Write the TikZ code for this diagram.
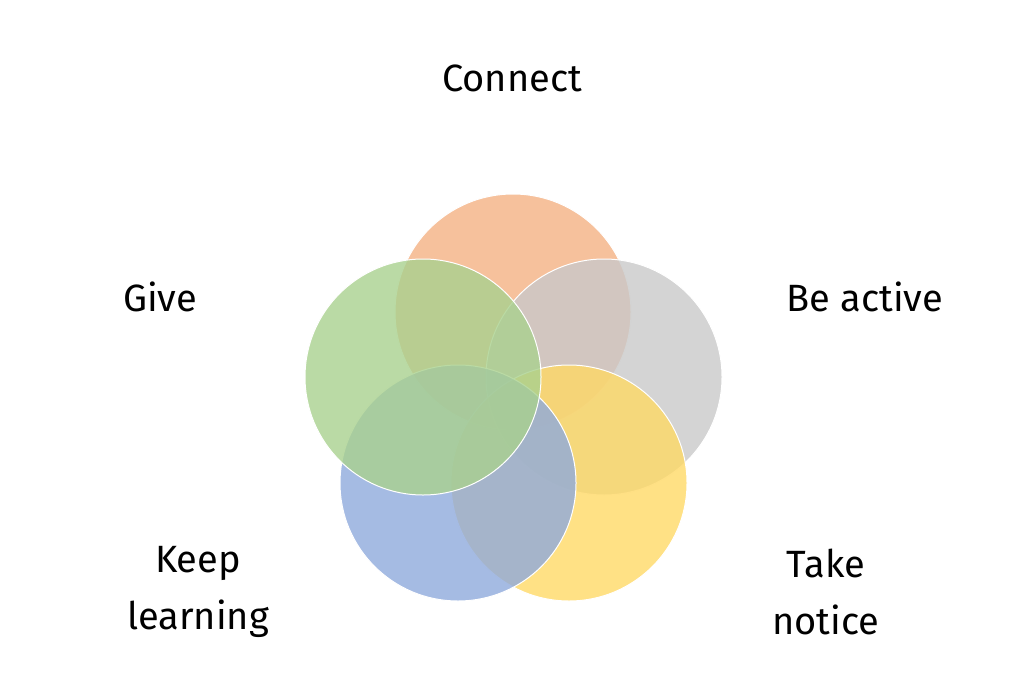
\documentclass[tikz,border=0pt]{standalone}
\usepackage{fontspec}
\setmainfont{Fira Sans}
\usepackage{tikz}
\usetikzlibrary{positioning}
\definecolor{cconnect}{HTML}{F4B183}
\definecolor{cactive}{HTML}{C9C9C9}
\definecolor{cnotice}{HTML}{FFD966}
\definecolor{clearn}{HTML}{8FAADC}
\definecolor{cgive}{HTML}{A9D18E}

\begin{document}
\begin{tikzpicture}[x=1pt, y=-1pt,
    ring/.style={circle, draw=white, line width=1pt, fill opacity=0.8, minimum size=236pt, inner sep=0pt},
    caption/.style={font=\fontsize{38}{57}\selectfont, align=center}
]
\useasboundingbox (0,0) rectangle (1024,682);

% Circles
\node [ring, fill=cconnect] (connect) at (513,312) {};
\node [ring, fill=cactive] (active) at (604,377) {};
\node [ring, fill=cnotice] (notice) at (569,483) {};
\node [ring, fill=clearn] (learn) at (458,483) {};
\node [ring, fill=cgive] (give) at (423,377) {};

% Labels
\node [caption] (tconnect) at (512,78) {Connect};
\node [caption] (tgive) at (160,297) {Give};
\node [caption] (tactive) at (865,297) {Be active};
\node [caption] (tlearn) at (198,592) {Keep\\learning};
\node [caption] (tnotice) at (826,592) {Take\\notice};

\end{tikzpicture}
\end{document}
